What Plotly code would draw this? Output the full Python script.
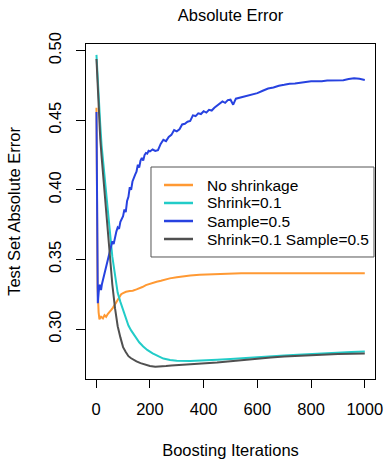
import plotly.graph_objects as go

# ---------------- data ----------------
series_names = ["No shrinkage", "Shrink=0.1", "Sample=0.5", "Shrink=0.1 Sample=0.5"]
series_colors = ["#FF9933", "#22CCC8", "#2742E0", "#505050"]

noshrink_x = [1, 5, 9, 12, 18, 25, 31, 37, 43, 50, 56, 62, 68, 74, 80, 87, 93, 100, 111, 125, 136, 150,
              160, 172, 185, 198, 210, 225, 241, 259, 274, 300, 323, 350, 385, 420, 447, 480, 508, 540,
              570, 600, 650, 700, 750, 800, 850, 900, 950, 1000]
noshrink_y = [0.459, 0.330, 0.312, 0.307, 0.3088, 0.3077, 0.3100, 0.3088, 0.3108, 0.3120, 0.3137, 0.3152,
              0.3172, 0.3192, 0.3213, 0.3232, 0.3250, 0.3258, 0.3268, 0.3273, 0.3275, 0.3285,
              0.3292, 0.3302, 0.3316, 0.3325, 0.3333, 0.3340, 0.3347, 0.3357, 0.3364, 0.3372, 0.3380,
              0.3385, 0.3390, 0.3393, 0.3395, 0.3398, 0.3400, 0.3400,
              0.3400, 0.3400, 0.3400, 0.3400, 0.3400, 0.3400, 0.3400, 0.3400, 0.3400, 0.3400]

shrink_x = [1, 5, 10, 15, 20, 25, 30, 40, 50, 60, 70, 80, 90, 100, 110, 120, 130, 140, 150, 160, 175,
            190, 210, 230, 250, 275, 300, 350, 400, 450, 500, 550, 600, 650, 700, 750, 800, 850, 900,
            950, 1000]
shrink_y = [0.497, 0.480, 0.462, 0.447, 0.432, 0.421, 0.410, 0.390, 0.372, 0.352, 0.340, 0.326, 0.3195,
            0.3135, 0.308, 0.3025, 0.2990, 0.2960, 0.2932, 0.2905, 0.2875, 0.2850, 0.2825, 0.2805,
            0.2788, 0.2777, 0.2773, 0.2771, 0.2773, 0.2779, 0.2785, 0.2790, 0.2795, 0.2802, 0.2810,
            0.2816, 0.2822, 0.2828, 0.2832, 0.2835, 0.2838]

sample_x = [1, 3, 6, 9, 12, 15, 18, 21, 25, 28, 31, 35, 40, 45, 50, 55, 60, 65, 70, 75, 80, 85, 90, 95,
            100, 105, 110, 115, 120, 125, 130, 135, 140, 145, 150, 155, 160, 165, 170, 175, 180, 185,
            190, 195, 200, 210, 220, 230, 240, 250, 260, 270, 280, 290, 300, 310, 320, 330, 340, 350,
            360, 370, 380, 390, 400, 410, 420, 430, 440, 450, 460, 470, 480, 490, 500, 510, 520, 530,
            540, 550, 560, 580, 600, 620, 640, 660, 680, 700, 720, 740, 760, 780, 800, 820, 840, 860,
            880, 900, 920, 940, 960, 980, 1000]
sample_y = [0.456, 0.360, 0.3185, 0.326, 0.3317, 0.331, 0.328, 0.332, 0.3353, 0.338, 0.340, 0.343, 0.346,
            0.351, 0.355, 0.358, 0.363, 0.361, 0.367, 0.370, 0.373, 0.372, 0.377, 0.379,
            0.381, 0.386, 0.384, 0.392, 0.395, 0.402, 0.400, 0.406, 0.409, 0.411, 0.413, 0.418, 0.416,
            0.421, 0.423, 0.421, 0.425, 0.4265, 0.426, 0.428, 0.4276, 0.429, 0.428, 0.4285, 0.433,
            0.436, 0.435, 0.438, 0.4395, 0.443, 0.442, 0.4435, 0.447, 0.4475, 0.449, 0.4495,
            0.4535, 0.453, 0.455, 0.4545, 0.4565, 0.4555, 0.4575, 0.457, 0.459, 0.4605, 0.4615,
            0.4635, 0.4625, 0.4645, 0.4648, 0.4612, 0.4655, 0.466, 0.4662, 0.4668, 0.4672, 0.4684,
            0.4695, 0.4712, 0.4728, 0.4735, 0.4748, 0.4755, 0.4763, 0.4765, 0.4768, 0.4775, 0.478,
            0.4778, 0.478, 0.4785, 0.4787, 0.479, 0.4788, 0.4796, 0.4802, 0.4798, 0.479]

both_x = [1, 5, 10, 15, 20, 25, 30, 40, 50, 60, 70, 80, 90, 100, 110, 120, 130, 140, 150, 165, 180,
          200, 220, 240, 260, 280, 300, 330, 360, 400, 450, 500, 550, 600, 650, 700, 750, 800, 850,
          900, 950, 1000]
both_y = [0.494, 0.476, 0.455, 0.437, 0.424, 0.412, 0.400, 0.377, 0.353, 0.332, 0.315, 0.302, 0.294,
          0.287, 0.2835, 0.2805, 0.2790, 0.2778, 0.2768, 0.2755, 0.2745, 0.2735, 0.2729, 0.2730,
          0.2734, 0.2738, 0.2740, 0.2743, 0.2746, 0.2752, 0.2759, 0.2768, 0.2778, 0.2788, 0.2795,
          0.2802, 0.2808, 0.2813, 0.2817, 0.2821, 0.2823, 0.2825]

x_ticks = [0, 200, 400, 600, 800, 1000]
y_ticks = [0.30, 0.35, 0.40, 0.45, 0.50]
y_tick_labels = ["0.30", "0.35", "0.40", "0.45", "0.50"]

title_text = "Absolute Error"
x_title = "Boosting Iterations"
y_title = "Test Set Absolute Error"

# ---------------- figure ----------------
FONT = "Liberation Sans, Arial, Helvetica, sans-serif"
fig = go.Figure()
all_x = [noshrink_x, shrink_x, sample_x, both_x]
all_y = [noshrink_y, shrink_y, sample_y, both_y]
for xs, ys, name, col in zip(all_x, all_y, series_names, series_colors):
    fig.add_trace(go.Scatter(x=xs, y=ys, mode="lines", name=name,
                             line=dict(color=col, width=2), showlegend=False))

# legend drawn R-style (box, line keys, labels)
box_x0, box_x1, box_y0, box_y1 = 0.2249, 0.9965, 0.3642, 0.6328
key_x0, key_x1, text_x = 0.2699, 0.3702, 0.4118
row_y = [0.5791, 0.5254, 0.4716, 0.4179]
shapes = [dict(type="rect", xref="paper", yref="paper", x0=box_x0, x1=box_x1, y0=box_y0, y1=box_y1,
               line=dict(color="#555555", width=1), fillcolor="white", layer="above")]
annotations = []
for name, col, yy in zip(series_names, series_colors, row_y):
    shapes.append(dict(type="line", xref="paper", yref="paper", x0=key_x0, x1=key_x1, y0=yy, y1=yy,
                       line=dict(color=col, width=2.5), layer="above"))
    annotations.append(dict(xref="paper", yref="paper", x=text_x, y=yy, text=name, showarrow=False,
                            xanchor="left", yanchor="middle",
                            font=dict(family=FONT, size=15.5, color="black")))

fig.update_layout(
    width=385, height=459,
    margin=dict(l=86, r=10, t=44, b=80, autoexpand=False),
    paper_bgcolor="white", plot_bgcolor="white",
    font=dict(family=FONT, size=16, color="black"),
    title=dict(text=title_text, x=(86 + 375) / 2 / 385, xanchor="center",
               y=1 - 15.5 / 459, yanchor="middle", font=dict(family=FONT, size=16.5)),
    shapes=shapes, annotations=annotations,
)
fig.update_xaxes(range=[-38, 1038], tickvals=x_ticks, ticks="outside", ticklen=8, tickcolor="black",
                 showline=True, mirror=True, linecolor="black", linewidth=1, showgrid=False,
                 zeroline=False, tickfont=dict(family=FONT, size=16.5), ticklabelstandoff=7,
                 title=dict(text=x_title, standoff=29, font=dict(family=FONT, size=16.5)),
                 automargin=False)
fig.update_yaxes(range=[0.2641, 0.5048], tickvals=y_ticks, ticktext=y_tick_labels, ticks="outside",
                 ticklen=9, tickcolor="black", tickangle=-90, ticklabelstandoff=8,
                 showline=True, mirror=True, linecolor="black", linewidth=1, showgrid=False,
                 zeroline=False, tickfont=dict(family=FONT, size=16.5),
                 title=dict(text=y_title, standoff=21, font=dict(family=FONT, size=16.5)),
                 automargin=False)

fig.write_html("out.html")
